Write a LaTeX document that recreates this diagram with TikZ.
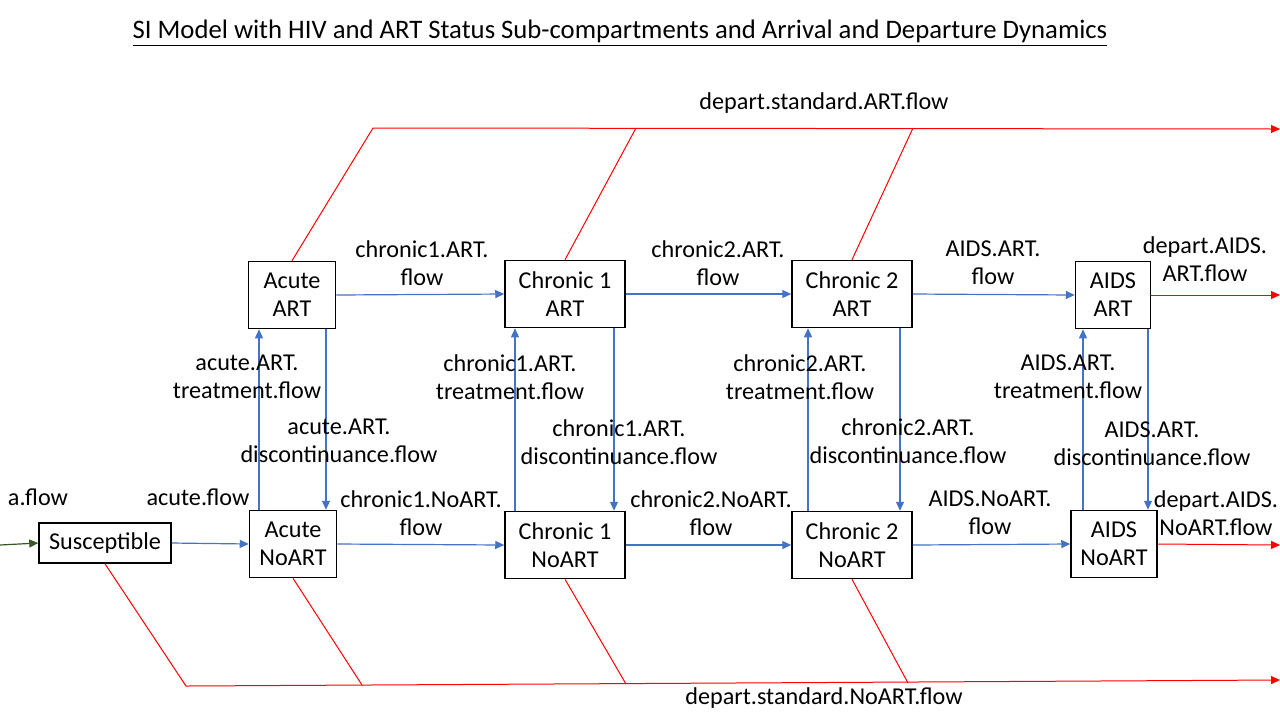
\documentclass[tikz,border=0pt]{standalone}
\usepackage{fontspec}
\setmainfont{Carlito}
\usepackage{tikz}
\usetikzlibrary{arrows.meta}
\usetikzlibrary{calc}
\usetikzlibrary{positioning}

\definecolor{flowblue}{HTML}{4472C4}
\definecolor{departred}{HTML}{FF0000}
\definecolor{arrivegreen}{HTML}{385723}

\tikzset{
  compbox/.style={draw=black, line width=0.75pt, inner sep=0pt, align=center,
    minimum height=33.5pt},
  lbl/.style={inner sep=0pt, align=center},
  flowarr/.style={flowblue, line width=0.6pt, -{Triangle[length=4.5pt,width=4pt]}},
  departarr/.style={departred, line width=0.5pt, -{Triangle[length=4.5pt,width=4pt]}},
  departline/.style={departred, line width=0.5pt},
  arrivearr/.style={arrivegreen, line width=0.6pt, -{Triangle[length=4.5pt,width=4pt]}}
}

\begin{document}
\begin{tikzpicture}[x=0.5pt, y=-0.5pt, font=\fontsize{12.1}{14}\selectfont]
      \useasboundingbox (0,0) rectangle (1280,720);

      % title
      \node[lbl, font=\fontsize{13.35}{16}\selectfont] (title) at (620,33) {\underline{SI Model with HIV and ART Status Sub-compartments and Arrival and Departure Dynamics}};

      % compartments
      \node[compbox, minimum width=66pt, minimum height=20pt] (sus) at (105,543) {Susceptible};
      \node[compbox, minimum width=43.5pt] (aA) at (292,295) {Acute\\ART};
      \node[compbox, minimum width=43.5pt] (aNo) at (293,544) {Acute\\NoART};
      \node[compbox, minimum width=60pt] (c1A) at (565,294) {Chronic 1\\ART};
      \node[compbox, minimum width=60pt] (c1No) at (565,545) {Chronic 1\\NoART};
      \node[compbox, minimum width=60pt] (c2A) at (852,294) {Chronic 2\\ART};
      \node[compbox, minimum width=60pt] (c2No) at (852,545) {Chronic 2\\NoART};
      \node[compbox, minimum width=37.5pt] (aidsA) at (1113,295) {AIDS\\ART};
      \node[compbox, minimum width=43pt] (aidsNo) at (1114,544) {AIDS\\NoART};

      % free ends
      \coordinate (arrive) at (0,545);
      \coordinate (outA) at (1280,295);
      \coordinate (outNo) at (1280,545);
      \coordinate (topL) at (373,128);
      \coordinate (topR) at (1280,129);
      \coordinate (topC1) at (636,128);
      \coordinate (topC2) at (913,128);
      \coordinate (botL) at (186,686);
      \coordinate (botR) at (1280,680);
      \coordinate (botA) at (362,685);
      \coordinate (botC1) at (626,684);
      \coordinate (botC2) at (908,683);

      % arrival and progression
      \draw[arrivearr] (arrive) -- (sus.west);
      \draw[flowarr] (sus.east) -- (aNo.west);
      \draw[flowarr] (aA.east) -- (c1A.west);
      \draw[flowarr] (aNo.east) -- (c1No.west);
      \draw[flowarr] (c1A.east) -- (c2A.west);
      \draw[flowarr] (c1No.east) -- (c2No.west);
      \draw[flowarr] (c2A.east) -- (aidsA.west);
      \draw[flowarr] (c2No.east) -- (aidsNo.west);

      % treatment and discontinuance
      \draw[flowarr] ([xshift=-17pt]aNo.north) -- ([xshift=-17pt]aNo.north |- aA.south);
      \draw[flowarr] ([xshift=17pt]aA.south) -- ([xshift=17pt]aA.south |- aNo.north);
      \draw[flowarr] ([xshift=-25pt]c1No.north) -- ([xshift=-25pt]c1No.north |- c1A.south);
      \draw[flowarr] ([xshift=24.5pt]c1A.south) -- ([xshift=24.5pt]c1A.south |- c1No.north);
      \draw[flowarr] ([xshift=-22pt]c2No.north) -- ([xshift=-22pt]c2No.north |- c2A.south);
      \draw[flowarr] ([xshift=24pt]c2A.south) -- ([xshift=24pt]c2A.south |- c2No.north);
      \draw[flowarr] ([xshift=-15.5pt]aidsNo.north) -- ([xshift=-15.5pt]aidsNo.north |- aidsA.south);
      \draw[flowarr] ([xshift=17.5pt]aidsA.south) -- ([xshift=17.5pt]aidsA.south |- aidsNo.north);

      % departures
      \draw[departarr] (aidsA.east) -- (outA);
      \draw[departarr] (aidsNo.east) -- (outNo);
      \draw[departarr] (aA.north) -- (topL) -- (topR);
      \draw[departline] (c1A.north) -- (topC1);
      \draw[departline] (c2A.north) -- (topC2);
      \draw[departarr] (sus.south) -- (botL) -- (botR);
      \draw[departline] (aNo.south) -- (botA);
      \draw[departline] (c1No.south) -- (botC1);
      \draw[departline] (c2No.south) -- (botC2);

      % flow labels
      \node[lbl] (lArrive) at (38,497) {a.flow};
      \node[lbl] (lAcute) at (198,497) {acute.flow};
      \node[lbl] (lC1A) at (422,263) {chronic1.ART.\\flow};
      \node[lbl] (lC1No) at (421,513) {chronic1.NoART.\\flow};
      \node[lbl] (lC2A) at (718,263) {chronic2.ART.\\flow};
      \node[lbl] (lC2No) at (711,513) {chronic2.NoART.\\flow};
      \node[lbl] (lAidsA) at (993,263) {AIDS.ART.\\flow};
      \node[lbl] (lAidsNo) at (990,513) {AIDS.NoART.\\flow};
      \node[lbl] (lOutA) at (1205,259) {depart.AIDS.\\ART.flow};
      \node[lbl] (lOutNo) at (1216,513) {depart.AIDS.\\NoART.flow};
      \node[lbl] (lAcTreat) at (247,377) {acute.ART.\\treatment.flow};
      \node[lbl] (lAcDisc) at (339,441) {acute.ART.\\discontinuance.flow};
      \node[lbl] (lC1Treat) at (510,377) {chronic1.ART.\\treatment.flow};
      \node[lbl] (lC1Disc) at (619,442) {chronic1.ART.\\discontinuance.flow};
      \node[lbl] (lC2Treat) at (800,377) {chronic2.ART.\\treatment.flow};
      \node[lbl] (lC2Disc) at (908,441) {chronic2.ART.\\discontinuance.flow};
      \node[lbl] (lAidsTreat) at (1068,377) {AIDS.ART.\\treatment.flow};
      \node[lbl] (lAidsDisc) at (1152,444) {AIDS.ART.\\discontinuance.flow};
      \node[lbl] (lTop) at (824,103) {depart.standard.ART.flow};
      \node[lbl] (lBot) at (824,698) {depart.standard.NoART.flow};

    \end{tikzpicture}
\end{document}
